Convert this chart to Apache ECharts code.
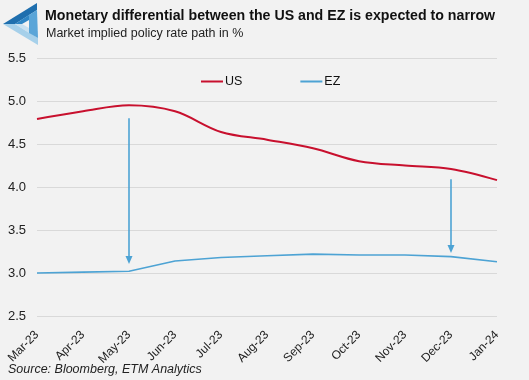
<!DOCTYPE html>
<html><head><meta charset="utf-8">
<script src="https://cdn.jsdelivr.net/npm/echarts@6/dist/echarts.min.js"></script>
<style>html,body{margin:0;padding:0;background:#f2f2f2;}#c{width:529px;height:380px;}</style>
</head><body><div id="c"></div>
<script>
var categories = ['Mar-23','Apr-23','May-23','Jun-23','Jul-23','Aug-23','Sep-23','Oct-23','Nov-23','Dec-23','Jan-24'];
var usValues = [4.79, 4.88, 4.95, 4.88, 4.64, 4.55, 4.45, 4.30, 4.25, 4.21, 4.08];
var ezValues = [3.00, 3.01, 3.02, 3.14, 3.18, 3.20, 3.22, 3.21, 3.21, 3.19, 3.13];
var arrow1 = {cat: 'May-23', from: 4.80, to: 3.15};
var arrow2 = {cat: 'Dec-23', from: 4.09, to: 3.28};

var chart = echarts.init(document.getElementById('c'));
var font = '"Liberation Sans", Arial, sans-serif';
chart.setOption({
  backgroundColor: '#f2f2f2',
  animation: false,
  title: [
    {text: 'Monetary differential between the US and EZ is expected to narrow', left: 45, top: 9, padding: 0,
     textStyle: {fontFamily: font, fontSize: 14.2, fontWeight: 'bold', color: '#111'}},
    {text: 'Market implied policy rate path in %', left: 46, top: 27, padding: 0,
     textStyle: {fontFamily: font, fontSize: 12.5, fontWeight: 'normal', color: '#222'}},
    {text: 'Source: Bloomberg, ETM Analytics', left: 8, top: 363, padding: 0,
     textStyle: {fontFamily: font, fontSize: 12.5, fontWeight: 'normal', fontStyle: 'italic', color: '#222'}}
  ],
  legend: {
    left: 196, top: 70, itemGap: 58, itemWidth: 22, itemHeight: 2, icon: 'rect',
    textStyle: {fontFamily: font, fontSize: 12.5, color: '#111', padding: [0,0,0,-3]},
    data: ['US', 'EZ']
  },
  grid: {left: 37, right: 32, top: 58, bottom: 64},
  xAxis: {
    type: 'category', data: categories, boundaryGap: false,
    axisLine: {show: false}, axisTick: {show: false},
    axisLabel: {rotate: 45, fontFamily: font, fontSize: 12, color: '#222', margin: 17, interval: 0}
  },
  yAxis: {
    type: 'value', min: 2.5, max: 5.5, interval: 0.5,
    axisLine: {show: false}, axisTick: {show: false},
    splitLine: {lineStyle: {color: '#d9d9d9', width: 1}},
    axisLabel: {fontFamily: font, fontSize: 13, color: '#222', margin: 11,
      formatter: function (v) { return v.toFixed(1); }}
  },
  series: [
    {name: 'US', type: 'line', data: usValues, smooth: 0.35, showSymbol: false,
     lineStyle: {color: '#c8102e', width: 2}, itemStyle: {color: '#c8102e'}},
    {name: 'EZ', type: 'line', data: ezValues, smooth: false, showSymbol: false,
     lineStyle: {color: '#4da3d4', width: 1.6}, itemStyle: {color: '#4da3d4'},
     markLine: {
       silent: true, symbol: ['none', 'triangle'], symbolSize: [7, 8], symbolRotate: 180,
       label: {show: false},
       lineStyle: {color: '#4da3d4', width: 1.6, type: 'solid'},
       data: [
         [{coord: [arrow1.cat, arrow1.from]}, {coord: [arrow1.cat, arrow1.to]}],
         [{coord: [arrow2.cat, arrow2.from]}, {coord: [arrow2.cat, arrow2.to]}]
       ]
     }}
  ],
  graphic: [
    {type: 'polygon', shape: {points: [[3,24],[37,3],[37,10],[15,24]]}, style: {fill: '#1f6fae'}},
    {type: 'polygon', shape: {points: [[3,24],[15,24],[38,38],[38,45]]}, style: {fill: '#a6d0ea'}},
    {type: 'polygon', shape: {points: [[29,15],[37,10],[38,38],[29,33]]}, style: {fill: '#5aa5d8'}},
    {type: 'polygon', shape: {points: [[15,24],[29,15],[29,20],[22,24]]}, style: {fill: '#2f86c5'}},
    {type: 'polygon', shape: {points: [[15,24],[22,24],[29,28],[29,33]]}, style: {fill: '#c8e1f1'}}
  ]
});
</script></body></html>
